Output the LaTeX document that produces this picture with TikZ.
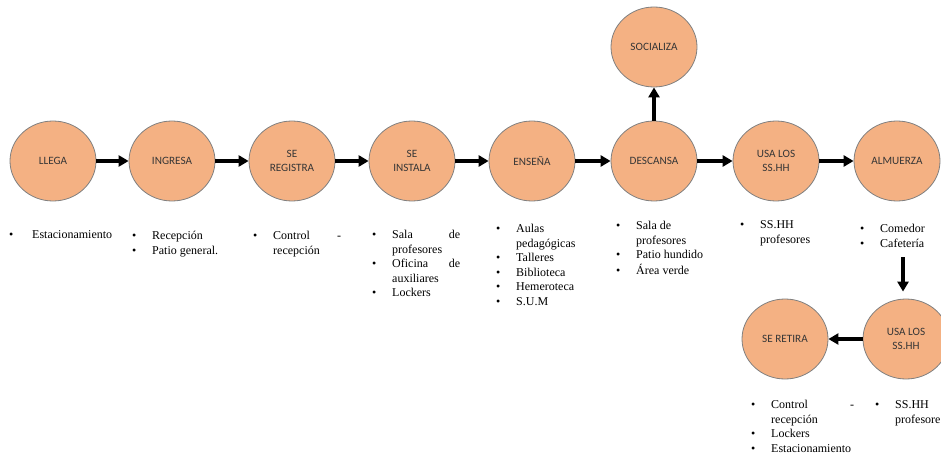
\documentclass[tikz,border=0pt]{standalone}
\usepackage{fontspec}
\setmainfont{Liberation Serif}
\newfontfamily\lblfont{Carlito}
\usetikzlibrary{shapes.geometric,arrows.meta}
\definecolor{peach}{HTML}{F4B183}
\definecolor{rim}{HTML}{7F7F7F}
\definecolor{ink}{HTML}{363636}
% bullet with its hanging indent, and the indent of a wrapped line
\newcommand{\bul}{\strut\makebox[20pt][l]{\textbullet}}
\newcommand{\ind}{\strut\hspace*{20pt}}
% a justified line: first word left, last word right
\newcommand{\jl}[3]{\makebox[#1][s]{#2\hfill #3}}
\tikzset{
  act/.style={ellipse, draw=rim, line width=0.8pt, fill=peach,
    minimum width=86pt, minimum height=80pt, inner sep=0pt,
    font=\lblfont\fontsize{11.2}{14}\selectfont, text=ink, align=center},
  flow/.style={line width=3.2pt, -{Triangle[length=10pt,width=11pt]}},
  lst/.style={anchor=north west, inner sep=0pt, align=left,
    font=\fontsize{12}{14.5}\selectfont}
}
\begin{document}
\begin{tikzpicture}[x=1pt,y=-1pt]
\useasboundingbox (0,0) rectangle (941,457);

% activities
\node[act] (llega)     at (53,161)  {LLEGA};
\node[act] (ingresa)   at (172,161) {INGRESA};
\node[act] (registra)  at (292,161) {SE\\REGISTRA};
\node[act] (instala)   at (412,161) {SE\\INSTALA};
\node[act] (ensena)    at (532,161) {ENSEÑA};
\node[act] (descansa)  at (654,161) {DESCANSA};
\node[act] (socializa) at (654,47)  {SOCIALIZA};
\node[act] (usa)       at (776,161) {USA LOS\\SS.HH};
\node[act] (almuerza)  at (897,161) {ALMUERZA};
\node[act] (usados)    at (906,339) {USA LOS\\SS.HH};
\node[act] (retira)    at (785,339) {SE RETIRA};

% flow
\draw[flow] (llega) -- (ingresa);
\draw[flow] (ingresa) -- (registra);
\draw[flow] (registra) -- (instala);
\draw[flow] (instala) -- (ensena);
\draw[flow] (ensena) -- (descansa);
\draw[flow] (descansa) -- (socializa);
\draw[flow] (descansa) -- (usa);
\draw[flow] (usa) -- (almuerza);
\coordinate (drop) at (903,257);
\draw[flow, shorten >=7pt] (drop) -- (drop |- usados.north);
\draw[flow] (usados) -- (retira);

% places used in each activity
\node[lst] (pllega) at (9,228.4) {\strut\makebox[23pt][l]{\textbullet}Estacionamiento};
\node[lst] (pingresa) at (132,229.4) {\bul Recepción\\\bul Patio general.};
\node[lst] (pregistra) at (253,229.4) {\bul\jl{68pt}{Control}{-}\\\ind recepción};
\node[lst] (pinstala) at (372,228.4) {\bul\jl{68pt}{Sala}{de}\\\ind profesores\\\bul\jl{68pt}{Oficina}{de}\\\ind auxiliares\\\bul Lockers};
\node[lst] (pensena) at (496,222.4) {\bul Aulas\\\ind pedagógicas\\\bul Talleres\\\bul Biblioteca\\\bul Hemeroteca\\\bul S.U.M};
\node[lst] (pdescansa) at (616,219.4) {\bul Sala de\\\ind profesores\\\bul Patio hundido\\\bul Área verde};
\node[lst] (pusa) at (740,218.4) {\bul SS.HH\\\ind profesores};
\node[lst] (palmuerza) at (860,222.4) {\bul Comedor\\\bul Cafetería};
\node[lst] (pretira) at (751,398.4) {\bul\jl{83pt}{Control}{-}\\\ind recepción\\\bul Lockers\\\bul Estacionamiento};
\node[lst] (pusados) at (875,398.4) {\bul SS.HH\\\ind profesores};
\end{tikzpicture}
\end{document}
